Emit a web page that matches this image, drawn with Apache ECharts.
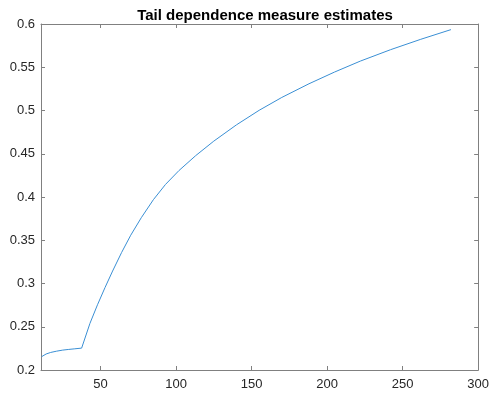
<!DOCTYPE html>
<html>
<head>
<meta charset="utf-8">
<script src="https://cdn.jsdelivr.net/npm/echarts@6/dist/echarts.min.js"></script>
<style>
  html, body { margin: 0; padding: 0; background: #fff; }
  #chart { width: 492px; height: 393px; }
</style>
</head>
<body>
<div id="chart"></div>
<script>
// estimates
var xVals = [11, 14, 17, 21, 25, 29, 33, 37.5, 43, 48, 53, 58, 64, 70, 77, 85, 93, 102, 113, 125, 140, 155, 170, 188, 205, 222, 242, 262, 282];
var yVals = [0.2154, 0.2185, 0.2203, 0.2218, 0.2230, 0.2238, 0.2245, 0.2253, 0.2539, 0.2754, 0.2954, 0.3144, 0.3360, 0.3558, 0.3761, 0.3969, 0.4145, 0.4307, 0.4478, 0.4646, 0.4834, 0.5002, 0.5151, 0.5309, 0.5445, 0.5571, 0.5703, 0.5823, 0.5935];
var xTicks = [50, 100, 150, 200, 250, 300];

var pts = [];
for (var i = 0; i < xVals.length; i++) {
  pts.push([xVals[i], yVals[i]]);
}

var axisCol = '#808080';
var textCol = '#262626';
var font = 'Liberation Sans, Arial, sans-serif';

var chart = echarts.init(document.getElementById('chart'), null, { renderer: 'canvas' });

//x axes: bottom with labels, top just ticks (MATLAB box)
function xAx(pos, showLabel) {
  return {
    type: 'value', position: pos, min: 10.6, max: 300,
    axisLine: { show: true, onZero: false, lineStyle: { color: axisCol, width: 1 } },
    axisTick: { show: true, inside: true, length: 4, customValues: xTicks, lineStyle: { color: axisCol } },
    axisLabel: { show: showLabel, customValues: xTicks, color: textCol, fontSize: 13, fontFamily: font, margin: 8 },
    splitLine: { show: false }
  };
}
function yAx(pos, showLabel) {
  return {
    type: 'value', position: pos, min: 0.2, max: 0.6, interval: 0.05,
    axisLine: { show: true, onZero: false, lineStyle: { color: axisCol, width: 1 } },
    axisTick: { show: true, inside: true, length: 4, lineStyle: { color: axisCol } },
    axisLabel: { show: showLabel, color: textCol, fontSize: 13, fontFamily: font, margin: 6 },
    splitLine: { show: false }
  };
}

chart.setOption({
  animation: false,
  title: {
    text: 'Tail dependence measure estimates',
    left: 260, top: 3, textAlign: 'center',
    textStyle: { fontSize: 15, fontWeight: 'bold', color: '#000', fontFamily: font }
  },
  grid: { left: 41, right: 13, top: 24, bottom: 23 },
  xAxis: [xAx('bottom', true), xAx('top', false)],
  yAxis: [yAx('left', true), yAx('right', false)],
  series: [{
    type: 'line',
    data: pts,
    smooth: false,
    showSymbol: false,
    lineStyle: { color: '#3a8fd4', width: 1 }
  }]
});
</script>
</body>
</html>
